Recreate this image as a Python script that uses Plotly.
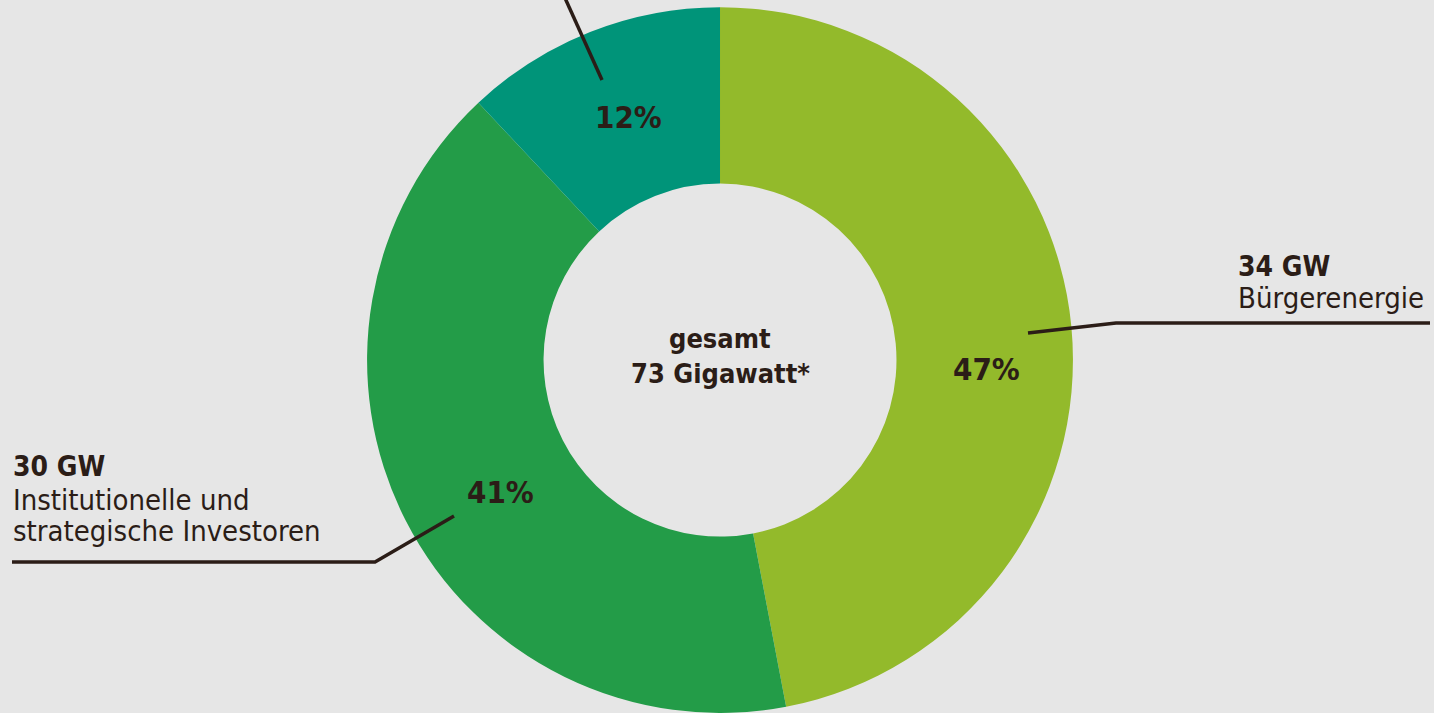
import plotly.graph_objects as go

W, H = 1434, 713

# data
categories = ["Bürgerenergie", "Institutionelle und strategische Investoren", "Sonstige"]
shares = [47, 41, 12]          # percent
capacity_gw = [34, 30, None]   # GW
total_gw = 73

colors = ["#93ba2b", "#239c48", "#009479"]
bg = "#e6e6e6"
ink = "#2b1d17"
FONT = "DejaVu Sans Condensed, Liberation Sans Narrow, Roboto, sans-serif"


def px(x, y):
    return x / W, 1 - y / H


fig = go.Figure()
fig.add_trace(go.Pie(
    labels=categories,
    values=shares,
    hole=0.5,
    sort=False,
    direction="clockwise",
    rotation=0,
    marker=dict(colors=colors, line=dict(width=0)),
    textinfo="none",
    hoverinfo="label+percent",
    domain=dict(x=[0.2021, 0.8021], y=[0.0, 0.99]),
    showlegend=False,
))

ann = []


def add_text(txt, x, y, size, xanchor="center"):
    xx, yy = px(x, y)
    ann.append(dict(x=xx, y=yy, xref="paper", yref="paper", xanchor=xanchor,
                    yanchor="middle", text=txt, showarrow=False,
                    font=dict(size=size, color=ink, family=FONT)))


# percentage labels
pct_pos = [(986, 369), (500, 492), (628, 117)]
for v, (x, y) in zip(shares, pct_pos):
    add_text(f"<b>{v}%</b>", x, y, 31)

# center label
add_text("<b>gesamt</b>", 720, 338, 27)
add_text(f"<b>{total_gw} Gigawatt*</b>", 720, 373, 27)

# left label
add_text(f"<b>{capacity_gw[1]} GW</b>", 11, 466, 28, "left")
add_text("Institutionelle und", 11, 500, 29, "left")
add_text("strategische Investoren", 11, 531, 29, "left")

# right label
add_text(f"<b>{capacity_gw[0]} GW</b>", 1236, 266, 28, "left")
add_text("Bürgerenergie", 1236, 298, 29, "left")

# leader lines
shapes = []


def line_path(points):
    p = [px(x, y) for x, y in points]
    d = "M " + " L ".join(f"{a},{b}" for a, b in p)
    return dict(type="path", xref="paper", yref="paper", path=d,
                line=dict(color=ink, width=3.5))


shapes.append(line_path([(1028, 333), (1116, 323), (1430, 323)]))
shapes.append(line_path([(454, 516), (375, 562), (12, 562)]))
shapes.append(line_path([(602, 80), (565, -2)]))

fig.update_layout(
    width=W, height=H,
    margin=dict(l=0, r=0, t=0, b=0),
    paper_bgcolor=bg, plot_bgcolor=bg,
    annotations=ann, shapes=shapes,
    font=dict(family=FONT, color=ink),
)

fig.write_html("out.html",
               config={"displayModeBar": False},
               post_script="document.body.style.margin='0';document.body.style.overflow='hidden';")
